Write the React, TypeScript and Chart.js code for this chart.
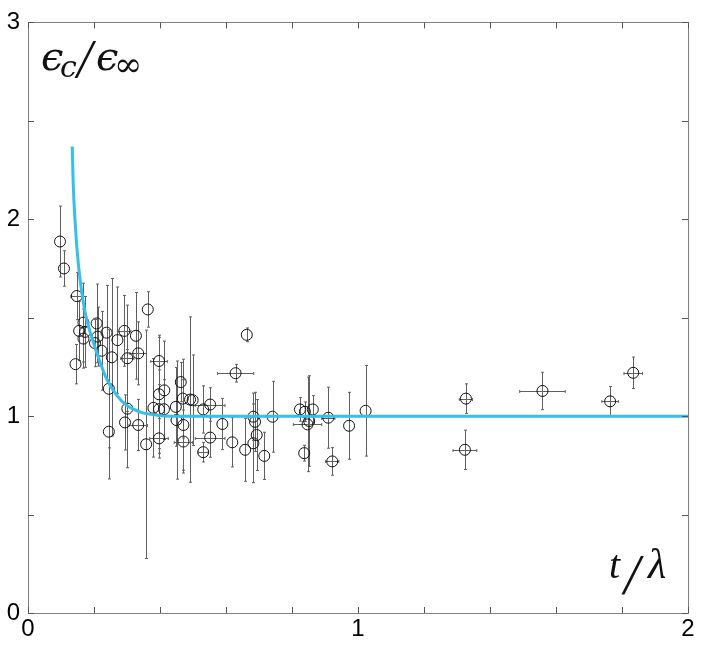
import { useEffect, useRef } from 'react';
import { Chart, registerables } from 'chart.js';

Chart.register(...registerables);

// Measured points (t/λ, εc/ε∞) with symmetric error bars
const obsX = [
  0.097, 0.109, 0.148, 0.144, 0.168, 0.155, 0.168, 0.173, 0.208, 0.211,
  0.203, 0.223, 0.238, 0.254, 0.271, 0.292, 0.301, 0.327, 0.334, 0.363,
  0.397, 0.245, 0.245, 0.301, 0.294, 0.334, 0.358, 0.38, 0.397, 0.397,
  0.413, 0.397, 0.412, 0.448, 0.463, 0.469, 0.45, 0.471, 0.471, 0.663,
  0.629, 0.491, 0.499, 0.531, 0.552, 0.589, 0.552, 0.531, 0.619, 0.658,
  0.683, 0.688, 0.683, 0.693, 0.716, 0.741, 0.824, 0.839, 0.863, 0.847,
  0.852, 0.837, 0.91, 0.922, 0.973, 1.023, 1.327, 1.324, 1.559, 1.764,
  1.834,
];
const obsY = [
  1.887, 1.75, 1.61, 1.264, 1.475, 1.433, 1.394, 1.428, 1.471, 1.404,
  1.371, 1.332, 1.424, 1.299, 1.386, 1.433, 1.294, 1.408, 1.319, 1.542,
  1.28, 1.139, 0.921, 1.038, 0.968, 0.955, 0.857, 1.042, 1.111, 1.035,
  1.131, 0.887, 1.035, 1.047, 1.173, 1.089, 0.98, 0.955, 0.871, 1.413,
  1.218, 1.084, 1.081, 1.034, 1.059, 0.96, 0.891, 0.817, 0.867, 0.829,
  0.997, 0.971, 0.862, 0.904, 0.798, 0.997, 1.034, 1.022, 1.034, 0.958,
  0.975, 0.812, 0.992, 0.77, 0.951, 1.027, 1.089, 0.829, 1.128, 1.075,
  1.22,
];
const errX = [
  0, 0, 0.018, 0, 0, 0, 0, 0, 0, 0,
  0, 0, 0, 0, 0, 0.02, 0.02, 0, 0.025, 0,
  0.025, 0, 0, 0, 0, 0.028, 0, 0, 0, 0,
  0, 0.028, 0, 0, 0, 0, 0, 0, 0.028, 0,
  0.055, 0, 0, 0, 0.045, 0, 0.045, 0.015, 0, 0,
  0, 0, 0, 0, 0, 0, 0, 0, 0, 0.043,
  0, 0, 0.02, 0.02, 0, 0, 0.02, 0.036, 0.069, 0.025,
  0.028,
];
const errY = [
  0.18, 0.09, 0.12, 0.1, 0.2, 0.15, 0.15, 0.18, 0.2, 0.15,
  0.12, 0.2, 0.24, 0.4, 0.27, 0.18, 0.27, 0.22, 0.16, 0.09,
  0.12, 0.3, 0.24, 0.3, 0.14, 0.13, 0.58, 0.25, 0.3, 0.2,
  0.25, 0.1, 0.15, 0.2, 0.1, 0.2, 0.3, 0.23, 0.16, 0.035,
  0.045, 0.42, 0.23, 0.12, 0.085, 0.13, 0.1, 0.05, 0.125, 0.16,
  0.12, 0.15, 0.2, 0.18, 0.12, 0.18, 0.06, 0.05, 0.07, 0.24,
  0.23, 0.04, 0.155, 0.07, 0.17, 0.23, 0.075, 0.1, 0.095, 0.075,
  0.08,
];

// Fitted curve
const fitX = [0.134, 0.137, 0.142, 0.149, 0.158, 0.168, 0.178, 0.198, 0.218, 0.238, 0.269, 0.299, 0.339, 0.39, 0.44, 0.6, 1.0, 1.5, 2.0];
const fitY = [2.37, 2.18, 2.01, 1.84, 1.69, 1.575, 1.49, 1.375, 1.275, 1.19, 1.105, 1.055, 1.022, 1.005, 1.0, 1.0, 1.0, 1.0, 1.0];

const xTickLabels = [0, 1, 2];
const yTickLabels = [0, 1, 2, 3];

const tickFont = { family: '"Liberation Sans", Arial, Helvetica, sans-serif', size: 24 };

const labelOf = (v: number, list: number[]) => {
  const hit = list.find((t) => Math.abs(t - v) < 1e-6);
  return hit === undefined ? '' : String(hit);
};

const errorBarPlugin = {
  id: 'errorBars',
  beforeDatasetsDraw(chart: any) {
    const { ctx, scales } = chart;
    const xs = scales.x;
    const ys = scales.y;
    ctx.save();
    ctx.strokeStyle = '#606060';
    ctx.lineWidth = 1;
    for (let i = 0; i < obsX.length; i++) {
      const px = Math.round(xs.getPixelForValue(obsX[i])) + 0.5;
      const py = Math.round(ys.getPixelForValue(obsY[i])) + 0.5;
      if (errY[i] > 0) {
        const y1 = ys.getPixelForValue(obsY[i] + errY[i]);
        const y2 = ys.getPixelForValue(obsY[i] - errY[i]);
        ctx.beginPath();
        ctx.moveTo(px, y1);
        ctx.lineTo(px, y2);
        ctx.moveTo(px - 1.5, y1);
        ctx.lineTo(px + 1.5, y1);
        ctx.moveTo(px - 1.5, y2);
        ctx.lineTo(px + 1.5, y2);
        ctx.stroke();
      }
      if (errX[i] > 0) {
        const x1 = xs.getPixelForValue(obsX[i] - errX[i]);
        const x2 = xs.getPixelForValue(obsX[i] + errX[i]);
        ctx.beginPath();
        ctx.moveTo(x1, py);
        ctx.lineTo(x2, py);
        ctx.moveTo(x1, py - 1.5);
        ctx.lineTo(x1, py + 1.5);
        ctx.moveTo(x2, py - 1.5);
        ctx.lineTo(x2, py + 1.5);
        ctx.stroke();
      }
    }
    ctx.restore();
  },
};

const framePlugin = {
  id: 'frame',
  afterDraw(chart: any) {
    const { ctx, chartArea, scales } = chart;
    const { left, right, top, bottom } = chartArea;
    ctx.save();
    ctx.strokeStyle = '#808080';
    ctx.lineWidth = 1;
    ctx.strokeRect(Math.round(left) + 0.5, Math.round(top) + 0.5, Math.round(right - left), Math.round(bottom - top));
    ctx.strokeStyle = '#555';
    const len = 6;
    ctx.beginPath();
    scales.x.ticks.forEach((t: any) => {
      const px = Math.round(scales.x.getPixelForValue(t.value)) + 0.5;
      ctx.moveTo(px, bottom);
      ctx.lineTo(px, bottom - len);
      ctx.moveTo(px, top);
      ctx.lineTo(px, top + len);
    });
    scales.y.ticks.forEach((t: any) => {
      const py = Math.round(scales.y.getPixelForValue(t.value)) + 0.5;
      ctx.moveTo(left, py);
      ctx.lineTo(left + len, py);
      ctx.moveTo(right, py);
      ctx.lineTo(right - len, py);
    });
    ctx.stroke();

    // axis titles inside the plot
    ctx.fillStyle = '#111';
    ctx.textBaseline = 'alphabetic';
    ctx.textAlign = 'left';
    const big = 'italic 40px "DejaVu Serif", "Liberation Serif", serif';
    const small = 'italic 30px "DejaVu Serif", "Liberation Serif", serif';
    const slash = 'italic 54px "Liberation Serif", "DejaVu Serif", serif';
    const upSmall = '34px "DejaVu Serif", "Liberation Serif", serif';
    ctx.font = big;
    ctx.fillText('ϵ', 41, 70);
    ctx.font = small;
    ctx.fillText('c', 60, 77);
    ctx.font = slash;
    ctx.fillText('/', 77, 77);
    ctx.font = big;
    ctx.fillText('ϵ', 96, 70);
    ctx.font = upSmall;
    ctx.fillText('∞', 114, 76);

    ctx.font = 'italic 40px "Liberation Serif", "DejaVu Serif", serif';
    ctx.fillText('t', 609, 578);
    ctx.font = 'italic 56px "Liberation Serif", "DejaVu Serif", serif';
    ctx.fillText('/', 624, 594);
    ctx.font = 'italic 42px "Liberation Serif", "DejaVu Serif", serif';
    ctx.fillText('λ', 648, 578);
    ctx.restore();
  },
};

export default function App() {
  const ref = useRef<HTMLCanvasElement | null>(null);
  useEffect(() => {
    if (!ref.current) return;
    const chart = new Chart(ref.current, {
      type: 'scatter',
      data: {
        datasets: [
          {
            type: 'line',
            data: fitX.map((x, i) => ({ x, y: fitY[i] })),
            borderColor: '#36bfe9',
            borderWidth: 3,
            pointRadius: 0,
            fill: false,
            cubicInterpolationMode: 'monotone',
          } as any,
          {
            type: 'scatter',
            data: obsX.map((x, i) => ({ x, y: obsY[i] })),
            pointStyle: 'circle',
            pointRadius: 5.5,
            borderColor: '#111',
            backgroundColor: 'rgba(0,0,0,0)',
            borderWidth: 1,
            showLine: false,
          } as any,
        ],
      },
      options: {
        animation: false,
        responsive: false,
        events: [],
        layout: { padding: { top: 17, right: 16, left: 0, bottom: 0 } },
        plugins: { legend: { display: false }, tooltip: { enabled: false } },
        scales: {
          x: {
            type: 'linear',
            min: 0,
            max: 2,
            grid: { display: false, drawTicks: false },
            border: { display: false },
            ticks: {
              stepSize: 0.2,
              autoSkip: false,
              maxRotation: 0,
              padding: 2,
              color: '#000',
              font: tickFont,
              callback: (v: any) => labelOf(Number(v), xTickLabels),
            },
            afterFit: (s: any) => { s.height = 33; },
          },
          y: {
            type: 'linear',
            min: 0,
            max: 3,
            grid: { display: false, drawTicks: false },
            border: { display: false },
            ticks: {
              stepSize: 0.5,
              autoSkip: false,
              padding: 8,
              color: '#000',
              font: tickFont,
              callback: (v: any) => labelOf(Number(v), yTickLabels),
            },
            afterFit: (s: any) => { s.width = 28; },
          },
        },
      } as any,
      plugins: [errorBarPlugin, framePlugin],
    });
    return () => chart.destroy();
  }, []);
  return (
    <div style={{ position: 'absolute', left: 0, top: 0, width: 704, height: 646, background: '#fff' }}>
      <canvas ref={ref} width={704} height={646} style={{ display: 'block' }} />
    </div>
  );
}
